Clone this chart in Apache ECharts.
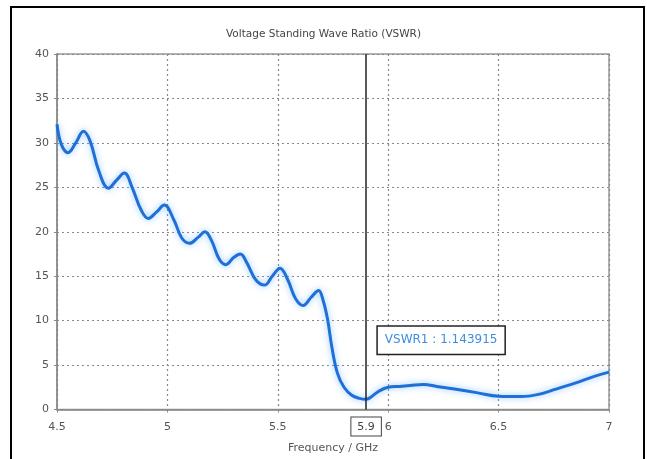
<!DOCTYPE html>
<html>
<head>
<meta charset="utf-8">
<script src="https://cdn.jsdelivr.net/npm/echarts@6/dist/echarts.min.js"></script>
<style>
  html, body { margin: 0; padding: 0; background: #fff; }
  #frame { position: absolute; left: 10px; top: 6px; width: 631px; height: 470px; border: 2px solid #000; }
  #chart { position: absolute; left: 0; top: 0; width: 647px; height: 459px; }
</style>
</head>
<body>
<div id="frame"></div>
<div id="chart"></div>
<script>
// frequency (GHz) and VSWR
var freq = [4.500, 4.520, 4.550, 4.585, 4.620, 4.650, 4.690, 4.733, 4.770, 4.805,
            4.840, 4.880, 4.913, 4.950, 4.986, 5.030, 5.065, 5.100, 5.140, 5.170,
            5.200, 5.235, 5.265, 5.300, 5.330, 5.360, 5.400, 5.440, 5.475, 5.510,
            5.545, 5.580, 5.615, 5.650, 5.685, 5.705, 5.725, 5.745, 5.770, 5.800,
            5.835, 5.870, 5.900, 5.930, 5.960, 6.000, 6.050, 6.100, 6.160, 6.220,
            6.300, 6.400, 6.500, 6.600, 6.680, 6.760, 6.850, 6.930, 7.000];
var vswr = [32.1, 29.8, 28.9, 30.0, 31.3, 30.2, 26.8, 24.9, 25.8, 26.6,
            25.0, 22.5, 21.5, 22.2, 23.0, 21.3, 19.3, 18.7, 19.4, 20.0,
            19.0, 16.9, 16.3, 17.1, 17.5, 16.5, 14.6, 14.0, 15.0, 15.9,
            14.6, 12.5, 11.7, 12.6, 13.4, 12.3, 10.2, 7.0, 4.1, 2.5,
            1.6, 1.25, 1.143915, 1.55, 2.1, 2.5, 2.6, 2.7, 2.8, 2.6,
            2.3, 1.9, 1.5, 1.45, 1.7, 2.3, 3.0, 3.7, 4.2];
var markerFreq = 5.9;
var markerValue = 1.143915;

var font = 'DejaVu Sans';
var chart = echarts.init(document.getElementById('chart'));

var points = [];
for (var i = 0; i < freq.length; i++) {
    points.push([freq[i], vswr[i]]);
}

chart.setOption({
    animation: false,
    title: {
        text: 'Voltage Standing Wave Ratio (VSWR)',
        left: 'center',
        top: 24,
        textStyle: { fontFamily: font, fontSize: 10.5, fontWeight: 'normal', color: '#444' }
    },
    grid: {
        left: 57, right: 38, top: 54, bottom: 49.5,
        show: true, borderColor: '#999', borderWidth: 1.5
    },
    xAxis: {
        type: 'value',
        min: 4.5, max: 7, interval: 0.5,
        name: 'Frequency / GHz',
        nameLocation: 'middle',
        nameGap: 33,
        nameTextStyle: { fontFamily: font, fontSize: 11, color: '#555' },
        axisLine: { lineStyle: { color: '#888', width: 1.5 } },
        axisTick: { length: 3, lineStyle: { color: '#888' } },
        axisLabel: { margin: 12, fontFamily: font, fontSize: 11, color: '#555' },
        splitLine: { show: true, lineStyle: { type: [2, 3], color: '#888', width: 1.2 } }
    },
    yAxis: {
        type: 'value',
        min: 0, max: 40, interval: 5,
        axisLine: { show: true, lineStyle: { color: '#888', width: 1.5 } },
        axisTick: { show: true, length: 3, lineStyle: { color: '#888' } },
        axisLabel: { margin: 8, fontFamily: font, fontSize: 11, color: '#555' },
        splitLine: { show: true, lineStyle: { type: [2, 3], color: '#888', width: 1.2 } }
    },
    series: [{
        type: 'line',
        data: points,
        smooth: 0.4,
        showSymbol: false,
        lineStyle: {
            color: '#1f6fd6', width: 3,
            shadowColor: 'rgba(90,170,255,0.7)', shadowBlur: 6
        },
        markLine: {
            silent: true,
            symbol: 'none',
            lineStyle: { color: '#222', width: 1.5, type: 'solid' },
            label: {
                position: 'start',
                distance: 8,
                formatter: String(markerFreq),
                fontFamily: font, fontSize: 11, color: '#444',
                backgroundColor: '#fff',
                borderColor: '#444', borderWidth: 1,
                padding: [4, 6, 3, 6]
            },
            data: [{ xAxis: markerFreq }]
        },
        markPoint: {
            silent: true,
            symbol: 'circle',
            symbolSize: 0,
            label: {
                show: true,
                offset: [75, -59],
                formatter: 'VSWR1 : ' + markerValue,
                fontFamily: font, fontSize: 12, color: '#3d8fe0',
                backgroundColor: '#fff',
                borderColor: '#222', borderWidth: 1.5,
                padding: [8, 7, 7, 7]
            },
            data: [{ coord: [markerFreq, markerValue] }]
        }
    }]
});
</script>
</body>
</html>
